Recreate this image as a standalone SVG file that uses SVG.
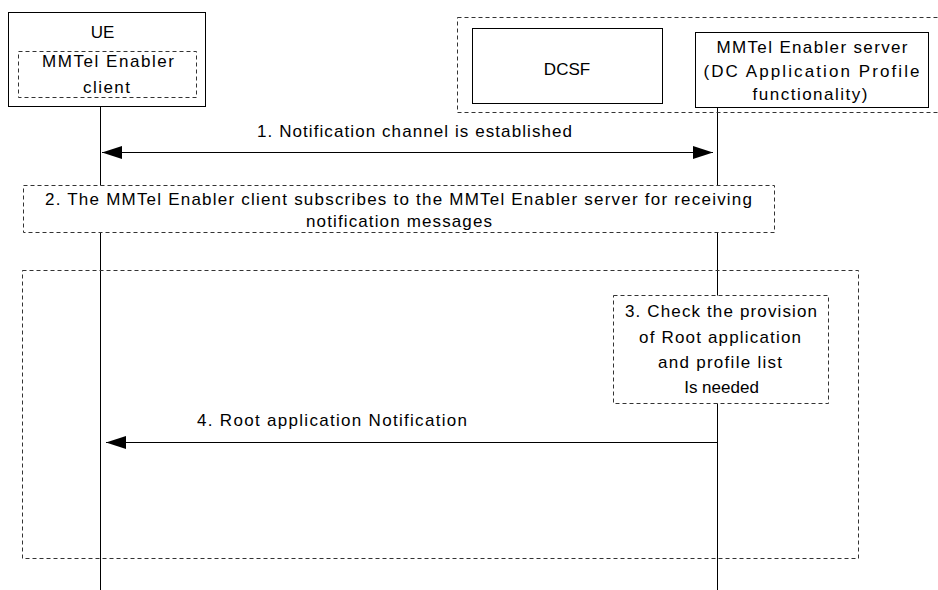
<svg xmlns="http://www.w3.org/2000/svg" width="938" height="590" viewBox="0 0 938 590">
<style>
text{font-family:"Liberation Sans",Arial,sans-serif;font-size:17px;fill:#000;text-anchor:middle}
.solid{fill:#fff;stroke:#000;stroke-width:1}
.dash{fill:none;stroke:#333;stroke-width:1;stroke-dasharray:4,3}
.dashw{fill:#fff;stroke:#333;stroke-width:1;stroke-dasharray:4,3}
.life{stroke:#000;stroke-width:1;fill:none}
.msg{stroke:#000;stroke-width:1;fill:none}
</style>
<defs>
<marker id="ah" markerUnits="userSpaceOnUse" markerWidth="21" markerHeight="14" refX="20" refY="6.5" orient="auto-start-reverse">
<path d="M0,0 L20,6.5 L0,13 z" fill="#000"/>
</marker>
</defs>

<g id="lifelines">
<line class="life" x1="100.5" y1="106" x2="100.5" y2="590"/>
<line class="life" x1="717.5" y1="107" x2="717.5" y2="590"/>
</g>

<g id="ue">
<rect class="solid" x="8.5" y="12.5" width="197" height="94"/>
<text x="102.5" y="38">UE</text>
<rect class="dash" x="18.5" y="51.5" width="178" height="46"/>
<text x="108" y="67" textLength="132" lengthAdjust="spacing">MMTel Enabler</text>
<text x="106.5" y="93" textLength="47" lengthAdjust="spacing">client</text>
</g>

<g id="network">
<rect class="dash" x="457.5" y="17.5" width="490" height="95"/>
</g>

<g id="dcsf">
<rect class="solid" x="472.5" y="28.5" width="190" height="75"/>
<text x="567" y="75">DCSF</text>
</g>

<g id="server">
<rect class="solid" x="695.5" y="32.5" width="233" height="75"/>
<text x="812" y="53" textLength="191" lengthAdjust="spacing">MMTel Enabler server</text>
<text x="811.5" y="77" textLength="216" lengthAdjust="spacing">(DC Application Profile</text>
<text x="810" y="100" textLength="115" lengthAdjust="spacing">functionality)</text>
</g>

<g id="step2">
<rect class="dashw" x="23.5" y="185.5" width="751" height="47"/>
<text x="398.5" y="205" textLength="707" lengthAdjust="spacing">2. The MMTel Enabler client subscribes to the MMTel Enabler server for receiving</text>
<text x="399" y="227" textLength="186" lengthAdjust="spacing">notification messages</text>
</g>

<g id="frame">
<rect class="dash" x="22.5" y="270.5" width="836" height="288"/>
</g>

<g id="step3">
<rect class="dashw" x="613.5" y="295.5" width="215" height="108"/>
<text x="721" y="317" textLength="192" lengthAdjust="spacing">3. Check the provision</text>
<text x="720" y="343" textLength="162" lengthAdjust="spacing">of Root application</text>
<text x="720" y="368" textLength="124" lengthAdjust="spacing">and profile list</text>
<text x="721.5" y="393">Is needed</text>
</g>

<g id="connectors">
<line class="msg" x1="102" y1="152.5" x2="713" y2="152.5" marker-start="url(#ah)" marker-end="url(#ah)"/>
<text x="414.5" y="137" textLength="315" lengthAdjust="spacing">1. Notification channel is established</text>
<line class="msg" x1="717" y1="442.5" x2="106" y2="442.5" marker-end="url(#ah)"/>
<text x="332" y="426" textLength="270" lengthAdjust="spacing">4. Root application Notification</text>
</g>
</svg>
